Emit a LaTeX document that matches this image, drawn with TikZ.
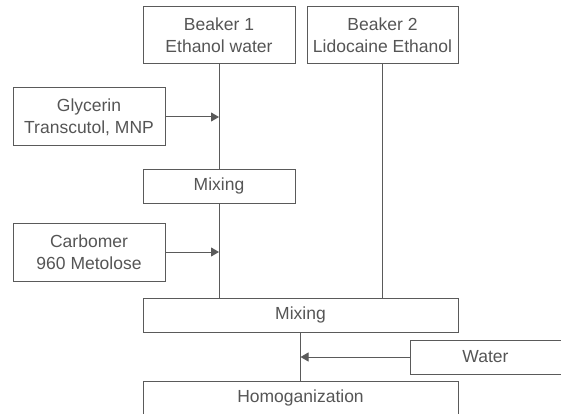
\documentclass[tikz,border=0pt]{standalone}
\usepackage{fontspec}
\setmainfont{Liberation Sans}
\usepackage{tikz}
\usetikzlibrary{arrows.meta, positioning}
\definecolor{linegray}{HTML}{5A5A5A}
\definecolor{textgray}{HTML}{555555}

\begin{document}
\begin{tikzpicture}[x=1pt, y=-1pt,
    stage/.style={rectangle, draw=linegray, line width=1pt, inner sep=0pt, align=center, text=textgray, font=\fontsize{17.5}{22}\selectfont},
    tall/.style={stage, minimum width=152pt, minimum height=57pt},
    short/.style={stage, minimum width=152pt, minimum height=34pt},
    wide/.style={stage, minimum width=315pt, minimum height=34pt},
    flow/.style={draw=linegray, line width=1pt},
    feed/.style={flow, -{Triangle[length=8pt, width=9pt]}}
]
    \useasboundingbox (0,0) rectangle (561,414);

    % Boxes
    \node[tall] (beaker1) at (219,35.5) {Beaker 1\\Ethanol water};
    \node[tall, minimum width=151pt] (beaker2) at (382.5,35.5) {Beaker 2\\Lidocaine Ethanol};
    \node[tall, minimum height=58pt] (glycerin) at (89,117) {Glycerin\\Transcutol, MNP};
    \node[short] (mixing1) at (219,186) {Mixing};
    \node[tall, minimum height=58pt] (carbomer) at (89,252) {Carbomer\\960 Metolose};
    \node[wide] (mixing2) at (300.5,315) {Mixing};
    \node[short, minimum width=151pt] (water) at (485.5,357) {Water};
    \node[wide] (homog) at (300.5,398) {Homoganization};

    % Flow
    \draw[flow] (beaker1) -- (mixing1);
    \draw[feed] (glycerin.east) -- (glycerin.east -| beaker1.south);
    \draw[flow] (mixing1.south) -- (mixing1.south |- mixing2.north);
    \draw[feed] (carbomer.east) -- (carbomer.east -| mixing1.south);
    \draw[flow] (beaker2.south) -- (beaker2.south |- mixing2.north);
    \draw[flow] (mixing2) -- (homog);
    \draw[feed] (water.west) -- (water.west -| mixing2.south);
\end{tikzpicture}
\end{document}
